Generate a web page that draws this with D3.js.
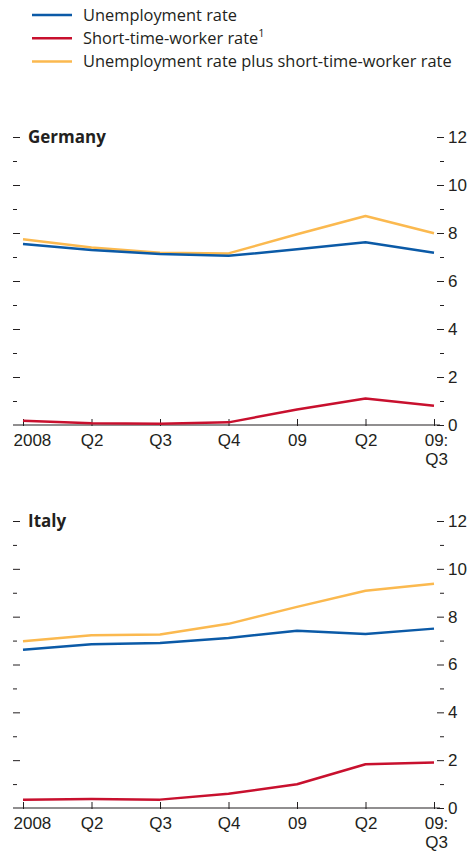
<!DOCTYPE html>
<html>
<head>
<meta charset="utf-8">
<script src="https://cdn.jsdelivr.net/npm/d3@7"></script>
<style>
  body { margin: 0; background: #fff; }
  svg { display: block; font-family: "Open Sans", sans-serif; }
  .tick line { stroke: #231f20; }
</style>
</head>
<body>
<div id="chart"></div>
<script>
// quarters, 2008 Q1 to 2009 Q3
const periods = ["2008Q1", "2008Q2", "2008Q3", "2008Q4", "2009Q1", "2009Q2", "2009Q3"];
const tickLabels = [["2008"], ["Q2"], ["Q3"], ["Q4"], ["09"], ["Q2"], ["09:", "Q3"]];

const seriesNames = ["Unemployment rate", "Short-time-worker rate", "Unemployment rate plus short-time-worker rate"];
const seriesColors = ["#0b5aa7", "#c8102e", "#fbb94f"];

// Germany, per cent
const deUnemp = [7.54, 7.29, 7.12, 7.05, 7.32, 7.61, 7.18];
const deShort = [0.18, 0.07, 0.05, 0.11, 0.65, 1.10, 0.80];
const deTotal = [7.74, 7.40, 7.18, 7.15, 7.95, 8.71, 7.99];

// Italy, per cent
const itUnemp = [6.62, 6.85, 6.90, 7.11, 7.41, 7.28, 7.50];
const itShort = [0.35, 0.38, 0.35, 0.60, 0.99, 1.83, 1.90];
const itTotal = [6.97, 7.22, 7.25, 7.70, 8.41, 9.08, 9.38];

const width = 472, height = 854;
const ink = "#231f20";

const svg = d3.select("#chart").append("svg")
    .attr("width", width)
    .attr("height", height);

// legend
const legend = svg.append("g");
seriesNames.forEach((name, i) => {
    let g = legend.append("g").attr("transform", "translate(0," + (15 + i * 23.3) + ")");
    g.append("line")
        .attr("x1", 32).attr("x2", 72)
        .attr("stroke", seriesColors[i])
        .attr("stroke-width", 2.5);
    let t = g.append("text")
        .attr("x", 83).attr("y", 5.5)
        .attr("fill", ink)
        .style("font-size", "16.4px")
        .text(name);
    if (i == 1) {
        t.append("tspan").attr("dy", -7).style("font-size", "11px").text("1");
    }
});

const x = d3.scalePoint()
    .domain(periods)
    .range([23, 434]);

function drawPanel(title, lines, top, bottom) {
    let y = d3.scaleLinear().domain([0, 12]).range([bottom, top]);
    let g = svg.append("g");

    let major = d3.range(2, 13, 2);
    let minor = d3.range(1, 12, 2);

    // left ticks, no labels
    g.append("g").attr("transform", "translate(13,0)")
        .call(d3.axisRight(y).tickValues(major).tickSize(7).tickFormat(""))
        .call(a => a.select(".domain").remove());
    g.append("g").attr("transform", "translate(13,0)")
        .call(d3.axisRight(y).tickValues(minor).tickSize(4).tickFormat(""))
        .call(a => a.select(".domain").remove());

    // right ticks with labels
    g.append("g").attr("transform", "translate(437,0)")
        .call(d3.axisRight(y).tickValues(d3.range(0, 13, 2)).tickSize(7).tickPadding(4))
        .call(a => a.select(".domain").remove())
        .call(a => a.selectAll("text").attr("fill", ink).style("font-size", "17px").attr("font-family", null));
    g.append("g").attr("transform", "translate(440,0)")
        .call(d3.axisRight(y).tickValues(minor).tickSize(4).tickFormat(""))
        .call(a => a.select(".domain").remove());

    // baseline and category ticks
    g.append("line")
        .attr("x1", 13).attr("x2", 440)
        .attr("y1", y(0)).attr("y2", y(0))
        .attr("stroke", ink).attr("stroke-width", 1.2);
    let xa = g.append("g").attr("transform", "translate(0," + y(0) + ")")
        .call(d3.axisBottom(x).tickSizeOuter(0).tickFormat(""))
        .call(a => a.select(".domain").remove());
    xa.selectAll(".tick line").attr("y1", 1).attr("y2", -6);
    xa.selectAll(".tick").each(function(d, i) {
        let lab = tickLabels[i];
        let tx = i == 0 ? -10 : (lab.length > 1 ? 2 : 0);
        lab.forEach((s, j) => {
            d3.select(this).append("text")
                .attr("fill", ink)
                .style("font-size", "17px")
                .attr("text-anchor", i == 0 ? "start" : "middle")
                .attr("x", tx)
                .attr("y", 21 + j * 19)
                .text(s);
        });
    });

    // panel title
    g.append("text")
        .attr("x", 28).attr("y", top + 6)
        .attr("fill", ink)
        .style("font-size", "17px")
        .style("font-weight", "bold")
        .text(title);

    let line = d3.line()
        .x((d, i) => x(periods[i]))
        .y(d => y(d));

    // draw order: unemployment plus first, then short-time, unemployment on top
    [[lines[2], seriesColors[2]], [lines[1], seriesColors[1]], [lines[0], seriesColors[0]]].forEach(s => {
        g.append("path")
            .datum(s[0])
            .attr("fill", "none")
            .attr("stroke", s[1])
            .attr("stroke-width", 2.5)
            .attr("stroke-linejoin", "round")
            .attr("d", line);
    });
}

drawPanel("Germany", [deUnemp, deShort, deTotal], 137, 425);
drawPanel("Italy", [itUnemp, itShort, itTotal], 521, 808);
</script>
</body>
</html>
